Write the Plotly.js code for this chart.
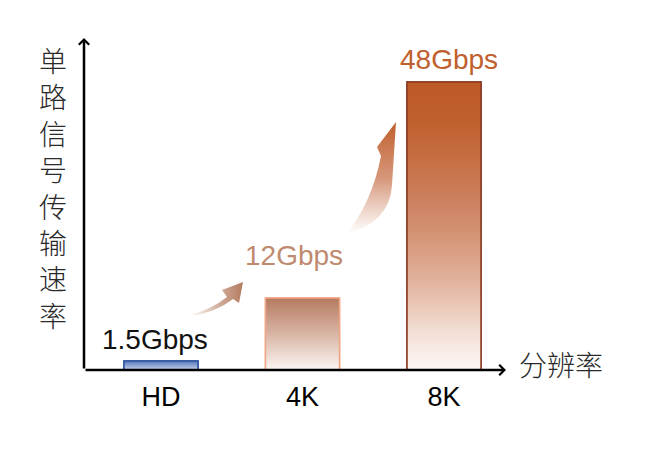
<!DOCTYPE html>
<html>
<head>
<meta charset="utf-8">
<script src="https://cdn.plot.ly/plotly-3.0.1.min.js"></script>
<style>html,body{margin:0;padding:0;background:#fff;}#chart{width:660px;height:456px;}</style>
</head>
<body>
<div id="chart"></div>
<script>
// ---- data ----
var categories = ["HD", "4K", "8K"];
var speeds = [1.5, 12, 48];               // Gbps
var speedLabels = ["1.5Gbps", "12Gbps", "48Gbps"];
var yTitle = "单路信号传输速率";
var xTitle = "分辨率";

// ---- styles ----
var labelColors = ["#111111", "#c08a70", "#c0602e"];
var labelShiftX = [-6, -9, 5];
var labelShiftY = [22, 43, 22];
var borderColors = ["#2f55a0", "#f0a684", "#8a3a22"];
var gradients = [
  [[0, "#c8d5ee"], [1, "#5675ba"]],
  [[0, "#fbf6f3"], [0.5, "#d9b5a5"], [1, "#b57a60"]],
  [[0, "#fcf8f6"], [0.14, "#f2ddd2"], [0.31, "#e2b29c"], [0.49, "#d29070"], [0.59, "#cd8060"], [0.76, "#c56c3e"], [0.87, "#bf5f2d"], [1, "#bc5a28"]]
];
var barWidth = 0.523;
var latin = "Liberation Sans, Arial, sans-serif";
var cjk = "Noto Sans CJK SC, sans-serif";

var xPos = categories.map(function (c, i) { return i; });
var traces = [];

// outline bars (semantic)
traces.push({
  type: "bar", x: xPos, y: speeds, width: barWidth,
  marker: { color: "rgba(255,255,255,0)", line: { color: borderColors, width: 1.5 } },
  hoverinfo: "skip", showlegend: false
});

// gradient-filled bodies, built from the same data
speeds.forEach(function (v, i) {
  var x0 = xPos[i] - barWidth / 2, x1 = xPos[i] + barWidth / 2;
  traces.push({
    type: "scatter", mode: "lines",
    x: [x0, x1, x1, x0, x0], y: [0, 0, v, v, 0],
    fill: "toself",
    fillgradient: { type: "vertical", start: 0, stop: v, colorscale: gradients[i] },
    line: { color: borderColors[i], width: 1.5 },
    hoverinfo: "skip", showlegend: false
  });
});

// decorative gradient arrows as SVG images
function svgURI(w, h, path, grad) {
  var s = '<svg xmlns="http://www.w3.org/2000/svg" width="' + w + '" height="' + h + '" viewBox="0 0 ' + w + ' ' + h + '" preserveAspectRatio="none">' +
    '<defs>' + grad + '</defs><path d="' + path + '" fill="url(#g)"/></svg>';
  return "data:image/svg+xml;charset=utf-8," + encodeURIComponent(s);
}
var arrow1 = svgURI(58, 39, "M2,36 Q24,30 39,18 L34,11 L55,3 L51,24 L45,20 Q27,34 2,37 Z",
  '<linearGradient id="g" x1="0" y1="0" x2="1" y2="0"><stop offset="0" stop-color="#b98268" stop-opacity="0"/><stop offset="0.6" stop-color="#bd8a70" stop-opacity="0.75"/><stop offset="1" stop-color="#b47a60" stop-opacity="1"/></linearGradient>');
var arrow2 = svgURI(60, 117, "M7,115 Q32,84 41,38 L37,29 L56,4 L52,67 Q50,104 7,116 Z",
  '<linearGradient id="g" x1="0" y1="1" x2="0" y2="0"><stop offset="0" stop-color="#d08a68" stop-opacity="0"/><stop offset="0.5" stop-color="#cc7c58" stop-opacity="0.8"/><stop offset="1" stop-color="#bf5e2b" stop-opacity="1"/></linearGradient>');

// plot area geometry (pixels) used for decoration placement
var L = 84, T = 38, W = 422, H = 332;
function px(p) { return (p - L) / W; }
function py(p) { return (T + H - p) / H; }

var annotations = [];
speeds.forEach(function (v, i) {
  annotations.push({
    x: xPos[i], y: v, xref: "x", yref: "y", text: speedLabels[i], showarrow: false,
    xanchor: "center", yanchor: "middle", xshift: labelShiftX[i], yshift: labelShiftY[i],
    font: { family: latin, size: 28, color: labelColors[i] }
  });
});
// axes with arrow heads
annotations.push({ x: 0, y: 1, xref: "paper", yref: "paper", ax: 0, ay: H, axref: "pixel", ayref: "pixel",
  showarrow: true, text: "", arrowhead: 4, arrowsize: 0.8, arrowwidth: 2.5, arrowcolor: "#000", standoff: 0 });
annotations.push({ x: 1, y: 0, xref: "paper", yref: "paper", ax: -W, ay: 0, axref: "pixel", ayref: "pixel",
  showarrow: true, text: "", arrowhead: 4, arrowsize: 0.8, arrowwidth: 2.5, arrowcolor: "#000", standoff: 0 });
// axis titles
annotations.push({ x: px(53), y: py(188), xref: "paper", yref: "paper", showarrow: false,
  text: yTitle.split("").join("<br>"), xanchor: "center", yanchor: "middle",
  font: { family: cjk, size: 28, color: "#2a2a2a", weight: 300 } });
annotations.push({ x: 1, y: 0, xref: "paper", yref: "paper", showarrow: false, text: xTitle,
  xanchor: "left", yanchor: "middle", xshift: 11, yshift: 6,
  font: { family: cjk, size: 28, color: "#2a2a2a", weight: 300 } });

var layout = {
  width: 660, height: 456,
  margin: { l: L, r: 660 - L - W, t: T, b: 456 - T - H, pad: 0 },
  paper_bgcolor: "#fff", plot_bgcolor: "#fff",
  showlegend: false,
  xaxis: {
    range: [-0.544, 2.438], tickvals: xPos, ticktext: categories,
    showgrid: false, zeroline: false, showline: false, ticks: "",
    ticklabelstandoff: 8,
    tickfont: { family: latin, size: 27, color: "#000" }
  },
  yaxis: {
    range: [0, 55.33], showgrid: false, zeroline: false, showline: false,
    showticklabels: false, ticks: ""
  },
  images: [
    { source: arrow1, xref: "paper", yref: "paper", x: px(188), y: py(279), sizex: 58 / W, sizey: 39 / H,
      xanchor: "left", yanchor: "top", sizing: "stretch", layer: "above" },
    { source: arrow2, xref: "paper", yref: "paper", x: px(340), y: py(118), sizex: 60 / W, sizey: 117 / H,
      xanchor: "left", yanchor: "top", sizing: "stretch", layer: "above" }
  ],
  annotations: annotations
};

Plotly.newPlot("chart", traces, layout, { displayModeBar: false, staticPlot: true });
</script>
</body>
</html>
